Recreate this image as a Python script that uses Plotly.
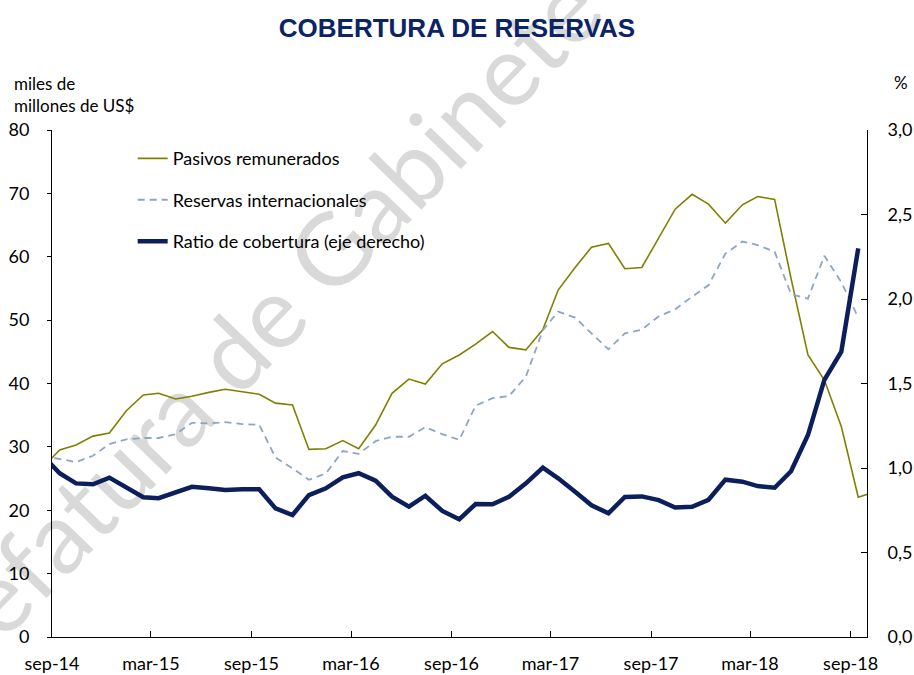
import pandas as pd
import plotly.graph_objects as go

# mid-month observations, aug-14 .. oct-18 (axis starts at 1-sep-14, so aug-14 is clipped)
months = pd.date_range("2014-08-01", "2018-10-01", freq="MS") + pd.Timedelta(days=14)

pasivos = [26.8, 29.5, 30.3, 31.7, 32.2, 35.7, 38.2, 38.45, 37.55, 38.0, 38.6,
           39.1, 38.7, 38.3, 36.9, 36.6, 29.6, 29.7, 31.0, 29.7, 33.45, 38.45,
           40.7, 39.9, 43.1, 44.5, 46.2, 48.2, 45.7, 45.3, 48.5, 54.75, 58.3,
           61.5, 62.1, 58.1, 58.3, 63.0, 67.5, 69.85, 68.3, 65.3, 68.2, 69.5,
           69.05, 56.6, 44.5, 40.55, 33.2, 22.05, 22.9]

reservas = [28.6, 28.1, 27.6, 28.6, 30.45, 31.2, 31.4, 31.4, 32.0, 33.8, 33.7,
            33.9, 33.6, 33.5, 28.3, 26.6, 24.8, 25.8, 29.35, 28.9, 30.9, 31.6,
            31.6, 33.1, 32.0, 31.1, 36.5, 37.7, 38.0, 41.1, 48.4, 51.35, 50.4,
            47.9, 45.4, 47.9, 48.5, 50.6, 51.7, 53.7, 55.5, 60.5, 62.4, 61.85,
            60.8, 54.1, 53.4, 60.15, 56.0, 50.4]

ratio = [1.075, 0.969, 0.909, 0.904, 0.943, 0.886, 0.827, 0.821, 0.856, 0.889,
         0.880, 0.870, 0.874, 0.874, 0.761, 0.722, 0.840, 0.880, 0.945, 0.969,
         0.925, 0.830, 0.771, 0.836, 0.746, 0.696, 0.787, 0.785, 0.830, 0.909,
         1.002, 0.939, 0.860, 0.779, 0.732, 0.829, 0.832, 0.810, 0.766, 0.771,
         0.812, 0.931, 0.919, 0.893, 0.883, 0.981, 1.195, 1.521, 1.688, 2.30]

tick_dates = ["2014-09-01", "2015-03-01", "2015-09-01", "2016-03-01", "2016-09-01",
              "2017-03-01", "2017-09-01", "2018-03-01", "2018-09-01"]
tick_text = ["sep-14", "mar-15", "sep-15", "mar-16", "sep-16",
             "mar-17", "sep-17", "mar-18", "sep-18"]

FONT = "Lato, 'Open Sans', sans-serif"

fig = go.Figure()
fig.add_trace(go.Scatter(x=months, y=pasivos, name="Pasivos remunerados",
                         mode="lines", line=dict(color="#808000", width=1.6),
                         legendgroup="a"))
fig.add_trace(go.Scatter(x=months[:len(reservas)], y=reservas, name="Reservas internacionales",
                         mode="lines", line=dict(color="#8EA5C8", width=1.8, dash="7px,5px"),
                         legendgroup="b"))
fig.add_trace(go.Scatter(x=months[:len(ratio)], y=ratio, name="Ratio de cobertura (eje derecho)",
                         mode="lines", line=dict(color="#0C1F5B", width=4.5),
                         yaxis="y2", legendgroup="c"))

fig.update_layout(
    width=914, height=675,
    margin=dict(l=52, r=47, t=130, b=38, autoexpand=False),
    paper_bgcolor="white", plot_bgcolor="white",
    font=dict(family=FONT, size=18, color="#000000"),
    separators=",.",
    title=dict(text="<b>COBERTURA DE RESERVAS</b>", x=0.5, xanchor="center",
               y=0.958, yanchor="middle",
               font=dict(family="Liberation Sans, Arial, sans-serif", size=26, color="#0B2466")),
    xaxis=dict(type="date", range=["2014-09-01", "2018-10-01"],
               tickvals=tick_dates, ticktext=tick_text, automargin=False,
               showline=True, linecolor="black", linewidth=1,
               ticks="inside", ticklen=6, tickcolor="black",
               showgrid=False, zeroline=False, ticklabelstandoff=10),
    yaxis=dict(range=[0, 80], dtick=10, showline=True, linecolor="black", linewidth=1,
               ticks="outside", ticklen=4, tickcolor="black", automargin=False,
               showgrid=False, zeroline=False, ticklabelstandoff=14),
    yaxis2=dict(range=[0, 3], dtick=0.5, tickformat=".1f", overlaying="y", side="right",
                showline=True, linecolor="black", linewidth=1, automargin=False,
                ticks="inside", ticklen=6, tickcolor="black",
                showgrid=False, zeroline=False, ticklabelstandoff=16),
    legend=dict(x=0.099, y=0.98, xanchor="left", yanchor="top",
                bgcolor="rgba(0,0,0,0)", itemwidth=30, tracegroupgap=15,
                font=dict(family=FONT, size=18)),
    showlegend=True,
)

# axis captions
fig.add_annotation(text="miles de<br>millones de US$", xref="paper", yref="paper",
                   x=-0.0495, y=1.117, xanchor="left", yanchor="top", align="left",
                   showarrow=False, font=dict(family=FONT, size=17))
fig.add_annotation(text="%", xref="paper", yref="paper", x=1.042, y=1.093,
                   xanchor="center", yanchor="middle", showarrow=False,
                   font=dict(family=FONT, size=17))

# watermark drawn under the data
fig.add_shape(type="line", xref="paper", yref="paper",
              x0=0.1865, y0=0.337, x1=0.9227, y1=1.560, layer="below",
              line=dict(color="rgba(0,0,0,0)", width=0),
              label=dict(text="Jefatura de Gabinete de Ministros", textangle=-46,
                         textposition="middle",
                         font=dict(family=FONT, size=100, color="#D9D9D9")))

# page body has a default 8px margin; drop it so the 914x675 figure fits the window
fig.write_html("out.html", config={"displayModeBar": False},
               post_script="document.body.style.margin='0';")
